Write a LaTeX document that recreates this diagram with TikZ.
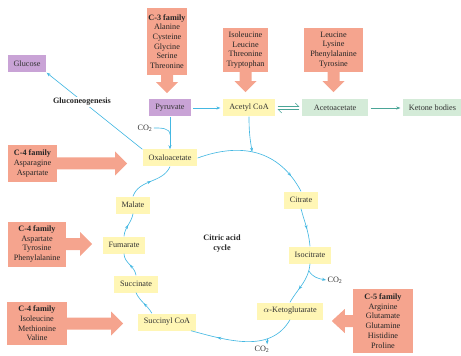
\documentclass[tikz,border=0pt]{standalone}
\usepackage{fontspec}
\setmainfont{Liberation Serif}
\usepackage{tikz}
\usetikzlibrary{arrows.meta}
\usetikzlibrary{decorations.markings}

\definecolor{famfill}{HTML}{F5A48E}
\definecolor{purp}{HTML}{C9A3D6}
\definecolor{yel}{HTML}{FFF6B5}
\definecolor{grn}{HTML}{D4EBD8}
\definecolor{cyanline}{HTML}{45B8E2}
\definecolor{tealline}{HTML}{4AA597}

\tikzset{
  box/.style={inner xsep=1.8mm, inner ysep=0pt, minimum height=5.1mm, text=black!80, font=\fontsize{7}{8.5}\selectfont},
  ybox/.style={box, fill=yel},
  pbox/.style={box, fill=purp},
  gbox/.style={box, fill=grn},
  family/.style={fill=famfill, align=center, inner sep=1pt, text=black!85, font=\fontsize{7}{8.3}\selectfont},
  fat/.style={fill=famfill},
  cyc/.style={cyanline, line width=0.55pt},
  cyctip/.style={-{Stealth[length=3.5pt,width=2.6pt]}},
  midtip/.style={postaction={decorate,decoration={markings,mark=at position #1 with {\arrow{Stealth[length=3.5pt,width=2.6pt]}}}}},
  lbl/.style={font=\fontsize{7}{8.5}\selectfont\bfseries, text=black!85},
  co/.style={font=\fontsize{7}{8.5}\selectfont, text=black!80, inner sep=1pt}
}

\begin{document}
\begin{tikzpicture}[x=0.3mm,y=0.3mm]
\useasboundingbox (0,0) rectangle (461,355);

% top row
\node [pbox] (glucose) at (27,291) {Glucose};
\node [pbox, minimum width=12mm] (pyr) at (170,247) {Pyruvate};
\node [ybox, minimum width=15.6mm] (acetyl) at (249,247) {Acetyl CoA};
\node [gbox, minimum width=19.8mm] (acetoac) at (335,247) {Acetoacetate};
\node [gbox, minimum width=17.1mm] (ketone) at (432.5,247) {Ketone bodies};

\node [family, minimum width=12mm, minimum height=20.1mm] (c3) at (167,313.5)
  {\textbf{C-3 family}\\Alanine\\Cysteine\\Glycine\\Serine\\Threonine};
\node [family, minimum width=13.5mm, minimum height=13.2mm] (ileu) at (245.5,305)
  {Isoleucine\\Leucine\\Threonine\\Tryptophan};
\node [family, minimum width=17.7mm, minimum height=13.2mm] (leu) at (333.5,305)
  {Leucine\\Lysine\\Phenylalanine\\Tyrosine};

\fill [fat] (c3.south) ++(-6,0) -- ++(0,-7) -- ++(-5,0) -- ++(11,-11) -- ++(11,11) -- ++(-5,0) -- ++(0,7) -- cycle;
\fill [fat] (ileu.south) ++(-6,0) -- ++(0,-9) -- ++(-5,0) -- ++(11,-11) -- ++(11,11) -- ++(-5,0) -- ++(0,9) -- cycle;
\fill [fat] (leu.south) ++(-6,0) -- ++(0,-9) -- ++(-5,0) -- ++(11,-11) -- ++(11,11) -- ++(-5,0) -- ++(0,9) -- cycle;

\node [co] (co2p) at (145,227) {CO\textsubscript{2}};

% cycle
\node [ybox] (oxa) at (170,197) {Oxaloacetate};
\node [ybox] (cit) at (301,155) {Citrate};
\node [ybox] (iso) at (310,100) {Isocitrate};
\node [ybox, minimum width=19.8mm] (akg) at (290,44) {$\alpha$-Ketoglutarate};
\node [ybox] (sca) at (167,33) {Succinyl CoA};
\node [ybox] (suc) at (136,71) {Succinate};
\node [ybox] (fum) at (124,110) {Fumarate};
\node [ybox] (mal) at (133,150) {Malate};
\node [lbl, align=center] (citric) at (222,111) {Citric acid\\cycle};
\node [co] (co2i) at (335,75) {CO\textsubscript{2}};
\node [co] (co2k) at (262,6) {CO\textsubscript{2}};

% families on the left and right
\node [family, minimum width=14.7mm, minimum height=11.1mm] (c4a) at (32.5,191.5)
  {\textbf{C-4 family}\\Asparagine\\Aspartate};
\node [family, minimum width=17.4mm, minimum height=13.5mm] (c4b) at (37,111)
  {\textbf{C-4 family}\\Aspartate\\Tyrosine\\Phenylalanine};
\node [family, minimum width=18mm, minimum height=12.9mm] (c4c) at (37,31.5)
  {\textbf{C-4 family}\\Isoleucine\\Methionine\\Valine};
\node [family, minimum width=18mm, minimum height=19.2mm] (c5) at (383,34)
  {\textbf{C-5 family}\\Arginine\\Glutamate\\Glutamine\\Histidine\\Proline};

\fill [fat] (c4a.east) ++(0,6) -- ++(58,0) -- ++(0,6) -- ++(12,-12) -- ++(-12,-12) -- ++(0,6) -- ++(-58,0) -- cycle;
\fill [fat] (c4b.east) ++(0,6) -- ++(14,0) -- ++(0,6) -- ++(12,-12) -- ++(-12,-12) -- ++(0,6) -- ++(-14,0) -- cycle;
\fill [fat] (c4c.east) ++(0,6) -- ++(44,0) -- ++(0,6) -- ++(12,-12) -- ++(-12,-12) -- ++(0,6) -- ++(-44,0) -- cycle;
\fill [fat] (c5.west) ++(0,6) -- ++(-8,0) -- ++(0,6) -- ++(-13,-12) -- ++(13,-12) -- ++(0,6) -- ++(8,0) -- cycle;

% connectors
\draw [cyc, cyctip] (oxa.north west) -- (glucose.south east);
\node [lbl, fill=white, inner sep=1pt] (gluco) at (82,253) {Gluconeogenesis};
\draw [cyc, cyctip, shorten <=2pt, shorten >=2pt] (pyr) -- (acetyl);
\draw [cyc, cyctip] (pyr) -- coordinate[pos=0.55] (pyrj) (oxa);
\draw [cyc] (co2p.east) to[out=0,in=90] (pyrj);

\draw [tealline, -{Straight Barb[left,length=3pt]}, shorten <=2pt, shorten >=2pt] ([yshift=1.2pt]acetyl.east) -- ([yshift=1.2pt]acetoac.west);
\draw [tealline, -{Straight Barb[left,length=3pt]}, shorten <=2pt, shorten >=2pt] ([yshift=-1.2pt]acetoac.west) -- ([yshift=-1.2pt]acetyl.east);
\draw [tealline, cyctip, shorten <=2pt, shorten >=2pt] (acetoac) -- (ketone);

\draw [cyc, midtip=0.85] (oxa.east) to[out=20,in=118,looseness=1.1] coordinate[pos=0.45] (join) (cit.north);
\draw [cyc, cyctip] (acetyl.south) to[out=-90,in=100] (join);
\draw [cyc, midtip=0.55] (cit.south) to[out=-75,in=95] (iso.north);
\draw [cyc, midtip=0.65] (iso.south) to[out=-95,in=60] coordinate[pos=0.15] (co2ib) (akg.north);
\draw [cyc, cyctip] (co2ib) to[out=-60,in=170] (co2i.west);
\draw [cyc, midtip=0.75] (akg.south) to[out=-120,in=-15] coordinate[pos=0.3] (co2kb) (sca.-20);
\draw [cyc, cyctip] (co2kb) -- (co2kb |- co2k.north);
\draw [cyc, midtip=0.5] (sca.150) to[out=120,in=-65] (suc.south);
\draw [cyc, midtip=0.5] (suc.north) to[out=98,in=-88] (fum.south);
\draw [cyc, midtip=0.5] (fum.north) to[out=85,in=-100] (mal.south);
\draw [cyc, midtip=0.5] (mal.north) to[out=70,in=-115] (oxa.south);
\end{tikzpicture}
\end{document}
